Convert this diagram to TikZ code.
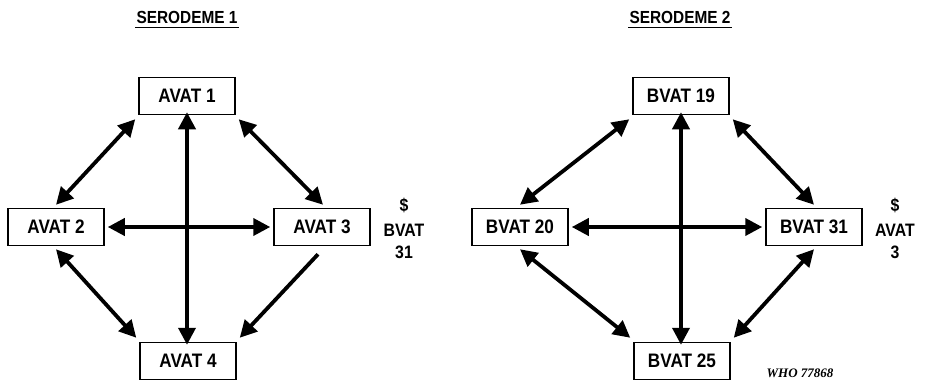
\documentclass[tikz,border=0pt]{standalone}
\usepackage{fontspec}
\setmainfont{Liberation Sans}[FakeStretch=0.88]
\newfontfamily\whofont{Liberation Serif}
\usetikzlibrary{arrows.meta}
\tikzset{
  vbox/.style={draw, line width=1.5pt, minimum width=96pt, minimum height=37pt, inner sep=0pt, font=\fontsize{19.5}{22}\selectfont\bfseries},
  link/.style={line width=3.8pt, {Triangle[length=17pt,width=17pt]}-{Triangle[length=17pt,width=17pt]}},
  onelink/.style={line width=3.8pt, -{Triangle[length=17pt,width=17pt]}},
  ttl/.style={font=\fontsize{17.5}{20}\selectfont\bfseries, inner sep=1pt},
  side/.style={font=\fontsize{18}{20}\selectfont\bfseries, inner sep=0pt},
}
\begin{document}
\begin{tikzpicture}[x=1pt,y=-1pt]
\useasboundingbox (0,0) rectangle (926,381);
% Serodeme 1
\node[ttl] (t1) at (187,17) {SERODEME 1};
\draw[line width=1.6pt] ([yshift=-3pt]t1.south west) -- ([yshift=-3pt]t1.south east);
\node[vbox] (a1) at (187,96) {AVAT 1};
\node[vbox] (a2) at (56,227) {AVAT 2};
\node[vbox] (a3) at (322,227) {AVAT 3};
\node[vbox] (a4) at (188,361) {AVAT 4};
\node[side] (s1) at (404,205) {\$};
\node[side] (s2) at (404,230) {BVAT};
\node[side] (s3) at (404,252) {31};
\draw[link] ([shift={(-3,4)}]a1.south west) -- ([shift={(0,-3)}]a2.north);
\draw[link] ([shift={(3,4)}]a1.south east) -- ([shift={(1,-3)}]a3.north);
\draw[link] ([yshift=3]a1.south) -- ([yshift=-3]a1.south|-a4.north);
\draw[link] ([xshift=3]a2.east) -- ([xshift=-3]a3.west);
\draw[link] ([shift={(0,3)}]a2.south) -- ([shift={(-3,-4)}]a4.north west);
\coordinate (c3) at ([shift={(-4,8)}]a3.south);
\draw[onelink] (c3) -- ([shift={(3,-4)}]a4.north east);
% Serodeme 2
\node[ttl] (t2) at (680,17) {SERODEME 2};
\draw[line width=1.6pt] ([yshift=-3pt]t2.south west) -- ([yshift=-3pt]t2.south east);
\node[vbox] (b1) at (681,96) {BVAT 19};
\node[vbox] (b2) at (520,227) {BVAT 20};
\node[vbox] (b3) at (814,227) {BVAT 31};
\node[vbox] (b4) at (682,361) {BVAT 25};
\node[side] (r1) at (895,205) {\$};
\node[side] (r2) at (895,230) {AVAT};
\node[side] (r3) at (895,252) {3};
\draw[link] ([shift={(-3,4)}]b1.south west) -- ([shift={(0,-3)}]b2.north);
\draw[link] ([shift={(3,4)}]b1.south east) -- ([shift={(0,-3)}]b3.north);
\draw[link] ([yshift=3]b1.south) -- ([yshift=-3]b1.south|-b4.north);
\draw[link] ([xshift=3]b2.east) -- ([xshift=-3]b3.west);
\draw[link] ([shift={(0,3)}]b2.south) -- ([shift={(-3,-4)}]b4.north west);
\draw[link] ([shift={(0,3)}]b3.south) -- ([shift={(3,-4)}]b4.north east);
\node[font=\whofont\itshape\bfseries\fontsize{13}{15}\selectfont] (who) at (800,373) {WHO 77868};
\end{tikzpicture}
\end{document}
